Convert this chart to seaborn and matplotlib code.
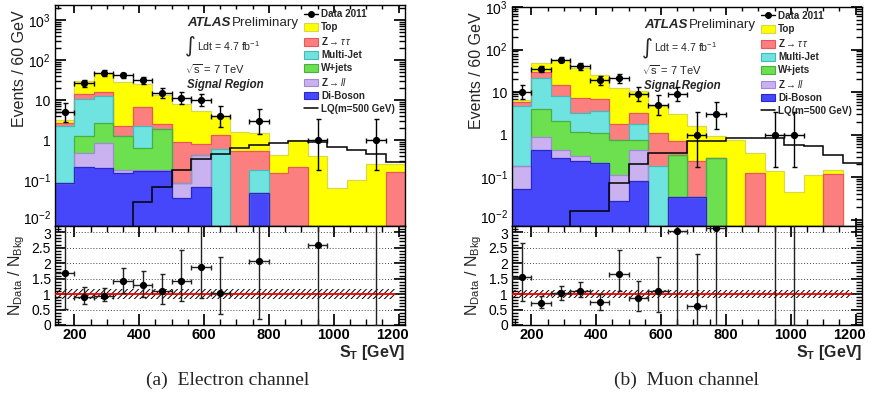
import numpy as np
import pandas as pd
import matplotlib
matplotlib.use("Agg")
import matplotlib.pyplot as plt
import matplotlib.transforms as mtransforms
from matplotlib.lines import Line2D
from matplotlib.patches import Patch
from matplotlib.ticker import FuncFormatter, LogLocator, MultipleLocator, NullFormatter
import seaborn as sns

sns.set_theme(style="ticks")
plt.rcParams['font.family'] = ['Liberation Sans', 'DejaVu Sans']
plt.rcParams['mathtext.fontset'] = 'custom'
plt.rcParams['mathtext.rm'] = 'Liberation Sans'
plt.rcParams['mathtext.it'] = 'Liberation Sans:italic'
plt.rcParams['mathtext.bf'] = 'Liberation Sans:bold'
plt.rcParams['hatch.linewidth'] = 0.7

# ---------------------------------------------------------------- binning
st_edges = np.arange(140, 1221, 60)          # S_T bins, 60 GeV wide
st_centers = 0.5 * (st_edges[:-1] + st_edges[1:])

processes = ["Top", "Z→ττ", "Multi-Jet", "W+jets", "Z→ll", "Di-Boson"]
legend_labels = ["Top", r"Z$\rightarrow\tau\,\tau$", "Multi-Jet", "W+jets",
                 r"Z$\rightarrow ll$", "Di-Boson"]
fill_colors = {"Top": "#ffff00", "Z→ττ": "#fb7f7f", "Multi-Jet": "#6fe3e0",
               "W+jets": "#6de04f", "Z→ll": "#c9b2ef", "Di-Boson": "#4646fb"}
edge_colors = {"Top": "#d8d84a", "Z→ττ": "#e85858", "Multi-Jet": "#48b8b8",
               "W+jets": "#48b040", "Z→ll": "#a488d8", "Di-Boson": "#2828c8"}

# ---------------------------------------------------------------- electron channel
el_top      = [0.50, 15.7, 32.5, 25.8, 18.0, 11.0, 6.9, 4.6, 2.6, 1.07, 0.95, 0.27, 0.785, 0.39, 0.063, 0.10, 0.25, 0.09]
el_ztautau  = [0.50, 3.30, 2.70, 0.94, 4.30, 0.65, 0.83, 0.37, 0.75, 0.53, 0.352, 0.152, 0.215, 0, 0, 0, 0, 0.16]
el_multijet = [2.12, 9.34, 10.2, 0, 1.68, 0, 0, 0, 0.58, 0, 0.13, 0, 0, 0, 0, 0, 0, 0]
el_wjets    = [0, 0.78, 1.77, 1.08, 0.44, 1.67, 0, 0, 0, 0, 0, 0, 0, 0, 0, 0, 0, 0]
el_zll      = [0, 0.265, 0.634, 0.026, 0.008, 0.008, 0.047, 0.352, 0, 0, 0, 0, 0, 0, 0, 0, 0, 0]
el_diboson  = [0.085, 0.215, 0.196, 0.152, 0.17, 0.17, 0.035, 0.068, 0, 0, 0.048, 0, 0, 0, 0, 0, 0, 0]
el_lq       = [0, 0, 0, 0, 0.029, 0.068, 0.178, 0.33, 0.45, 0.62, 0.75, 0.86, 0.96, 0.91, 0.68, 0.56, 0.45, 0.28]

el_data_x   = [170, 230, 290, 350, 410, 470, 530, 590, 650, 770, 950, 1130]
el_data_n   = [5, 26, 47, 41, 31, 15, 11, 10, 4, 3, 1, 1]
el_ratio    = [1.69, 0.89, 0.94, 1.42, 1.29, 1.11, 1.42, 1.86, 1.04, 2.07, 2.58, 4.0]
el_ratio_lo = [0.52, 0.68, 0.77, 1.04, 0.90, 0.68, 0.76, 0.87, 0.34, 0.20, 0.0, 0.0]
el_ratio_hi = [3.80, 1.24, 1.18, 1.85, 1.74, 1.66, 2.42, 3.50, 2.20, 6.0, 8.0, 12.0]
el_syst     = (0.84, 1.17)

# ---------------------------------------------------------------- muon channel
mu_top      = [0.6, 19.6, 41.3, 28.7, 18.4, 10.9, 7.3, 3.5, 2.3, 1.40, 0.67, 0.75, 0.235, 0.137, 0.045, 0.115, 0.025, 0]
mu_ztautau  = [1.1, 8.0, 6.5, 4.1, 3.4, 1.02, 1.42, 0.914, 0.36, 0.202, 0, 0, 0.125, 0, 0, 0, 0.12, 0]
mu_multijet = [4.62, 17.1, 5.95, 2.07, 2.4, 0, 1.02, 0.186, 0, 0, 0, 0, 0, 0, 0, 0, 0, 0]
mu_wjets    = [0, 3.02, 1.62, 0.81, 0.885, 0.645, 0.32, 0, 0.306, 0, 0.28, 0, 0, 0, 0, 0, 0, 0]
mu_zll      = [0.127, 0.45, 0.15, 0.085, 0, 0.088, 0.36, 0, 0, 0, 0, 0, 0, 0, 0, 0, 0, 0]
mu_diboson  = [0.053, 0.43, 0.28, 0.235, 0.215, 0.027, 0.08, 0, 0.034, 0.034, 0, 0, 0, 0, 0, 0, 0, 0]
mu_lq       = [0, 0, 0, 0.0157, 0.016, 0.073, 0.2, 0.36, 0.36, 0.70, 0.70, 0.84, 0.84, 0.81, 0.58, 0.54, 0.34, 0.22]

mu_data_x   = [170, 230, 290, 350, 410, 470, 530, 590, 650, 710, 770, 950, 1010]
mu_data_n   = [10, 35, 58, 40, 19, 21, 9, 5, 9, 1, 3, 1, 1]
mu_ratio    = [1.54, 0.72, 1.04, 1.11, 0.75, 1.65, 0.86, 1.11, 3.03, 0.61, 3.15, 4.0, 4.0]
mu_ratio_lo = [0.78, 0.55, 0.82, 0.90, 0.50, 1.10, 0.45, 0.43, 0.0, 0.0, 0.0, 0.0, 0.0]
mu_ratio_hi = [2.64, 0.93, 1.25, 1.40, 1.00, 2.42, 1.41, 2.20, 9.0, 2.28, 9.0, 12.0, 12.0]
mu_syst     = (0.88, 1.13)

W_PX, H_PX = 869, 401
fig = plt.figure(figsize=(W_PX / 100, H_PX / 100), dpi=100)


def rect(x0, y0, x1, y1):
    return [x0 / W_PX, 1 - y1 / H_PX, (x1 - x0) / W_PX, (y1 - y0) / H_PX]


def shift_px(artist, dx, dy):
    artist.set_transform(artist.get_transform() +
                         mtransforms.ScaledTranslation(dx / 100, dy / 100, fig.dpi_scale_trans))


def poisson_interval(n):
    n = np.asarray(n, dtype=float)
    lo = np.where(n > 0, n - np.sqrt(np.maximum(n - 0.25, 0)) + 0.04, 0)
    hi = n + 1 + np.sqrt(n + 0.75)
    return n - lo, hi - n


def log_label(v, pos):
    e = int(round(np.log10(v)))
    if e == 0:
        return "1"
    if e == 1:
        return "10"
    return r"$10^{%d}$" % e


def style_axis(ax):
    ax.tick_params(which="both", direction="in", top=True, right=True,
                   colors="black", labelsize=10)
    for s in ax.spines.values():
        s.set_linewidth(1.0)
        s.set_color("black")


def draw_channel(x_left, y_top, comps, lq, data_x, data_n, ratio, r_lo, r_hi,
                 syst, ymax, caption, caption_x):
    x_right = x_left + 350
    ax = fig.add_axes(rect(x_left, y_top, x_right, 226))
    axr = fig.add_axes(rect(x_left, 226, x_right, 325))

    # stacked backgrounds
    rows = []
    for proc, vals in zip(processes, comps):
        for c, v in zip(st_centers, vals):
            rows.append({"st": c, "events": v, "process": proc})
    df = pd.DataFrame(rows)
    sns.histplot(data=df, x="st", weights="events", hue="process",
                 hue_order=processes, palette=fill_colors, multiple="stack",
                 element="step", fill=True, alpha=1, linewidth=0,
                 bins=st_edges.tolist(), legend=False, ax=ax)
    ax.set_yscale("log")
    # outline of each cumulative histogram, largest first
    cum = np.cumsum(np.array(comps[::-1]), axis=0)[::-1]
    for proc, c in zip(processes, cum):
        ax.stairs(c, st_edges, color=edge_colors[proc], lw=0.9, baseline=None)

    ax.stairs(lq, st_edges, color="black", lw=1.1, baseline=None)

    elo, ehi = poisson_interval(data_n)
    ax.errorbar(data_x, data_n, yerr=[elo, ehi], xerr=30, fmt="o", color="black",
                ms=4.2, elinewidth=1.0, capsize=1.8, capthick=1.0, zorder=5)

    ax.set_xlim(st_edges[0], st_edges[-1])
    ax.set_ylim(0.0071, ymax)
    ax.set_xlabel("")
    ax.set_ylabel("Events / 60 GeV", fontsize=11.5)
    ax.yaxis.set_label_coords(-0.08, 0.71)
    ax.yaxis.set_major_locator(LogLocator(base=10, numticks=10))
    ax.yaxis.set_minor_locator(LogLocator(base=10, subs=np.arange(2, 10), numticks=20))
    ax.yaxis.set_major_formatter(FuncFormatter(log_label))
    ax.yaxis.set_minor_formatter(NullFormatter())
    ax.xaxis.set_major_locator(MultipleLocator(200))
    ax.xaxis.set_minor_locator(MultipleLocator(50))
    ax.set_xticklabels([])
    style_axis(ax)
    ax.tick_params(axis="y", which="major", length=8, pad=3)
    ax.tick_params(axis="y", which="minor", length=4)
    ax.tick_params(axis="x", which="major", length=6)
    ax.tick_params(axis="x", which="minor", length=3)

    # labels and legend
    ax.text(0.378, 0.92, "ATLAS", transform=ax.transAxes, fontsize=9.6,
            fontweight="bold", style="italic", va="center")
    ax.text(0.505, 0.92, "Preliminary", transform=ax.transAxes, fontsize=9.6, va="center")
    ax.text(0.372, 0.815, "∫", transform=ax.transAxes, fontsize=15,
            family="DejaVu Sans", va="center")
    ax.text(0.407, 0.815, r"Ldt = 4.7 fb$^{\mathregular{-1}}$", transform=ax.transAxes,
            fontsize=7.6, va="center")
    ax.text(0.372, 0.712, r"$\sqrt{\mathregular{s}}$ = 7 TeV", transform=ax.transAxes,
            fontsize=8, va="center")
    ax.text(0.378, 0.64, "Signal Region", transform=ax.transAxes, fontsize=8.3,
            fontweight="bold", style="italic", va="center")

    handles = [Line2D([], [], marker="o", color="black", ls="-", ms=4, lw=1.0)]
    for proc in processes:
        handles.append(Patch(facecolor=fill_colors[proc], edgecolor=edge_colors[proc], lw=0.8))
    handles.append(Line2D([], [], color="black", lw=1.1))
    labels = ["Data 2011"] + legend_labels + ["LQ(m=500 GeV)"]
    ax.legend(handles, labels, loc="upper left", bbox_to_anchor=(0.705, 0.99),
              frameon=False, prop={"size": 7.1, "weight": "bold"},
              handlelength=1.45, handleheight=0.85, handletextpad=0.3,
              labelspacing=0.3, borderaxespad=0, borderpad=0.2)

    # ratio panel
    for g in np.arange(0.5, 3.01, 0.5):
        axr.axhline(g, color="#444444", lw=0.7, ls=(0, (1, 2)), zorder=1)
    axr.fill_between([st_edges[0], st_centers[-1]], syst[0], syst[1],
                     facecolor="none", edgecolor="black", hatch="//////", lw=0, zorder=2)
    axr.plot([st_edges[0], st_centers[-1]], [1, 1], color="red", lw=1.3, zorder=3)
    ratio = np.asarray(ratio)
    axr.errorbar(data_x, ratio, yerr=[ratio - np.asarray(r_lo), np.asarray(r_hi) - ratio],
                 xerr=30, fmt="o", color="black", ecolor="#222222", ms=4.2,
                 elinewidth=1.0, capsize=1.8, capthick=1.0, zorder=5)
    axr.set_xlim(st_edges[0], st_edges[-1])
    axr.set_ylim(0, 3.2)
    axr.yaxis.set_major_locator(MultipleLocator(0.5))
    axr.yaxis.set_minor_locator(MultipleLocator(0.1))
    axr.yaxis.set_major_formatter(FuncFormatter(lambda v, p: "%g" % v))
    axr.xaxis.set_major_locator(MultipleLocator(200))
    axr.xaxis.set_minor_locator(MultipleLocator(50))
    style_axis(axr)
    axr.tick_params(axis="y", which="major", length=8, pad=3)
    axr.tick_params(axis="y", which="minor", length=4)
    axr.tick_params(axis="x", which="major", length=8, pad=2, labelsize=10.5)
    axr.tick_params(axis="x", which="minor", length=4)
    fig.canvas.draw()
    for lab in axr.get_xticklabels():
        lab.set_fontweight("bold")
        if lab.get_text() == "1200":
            shift_px(lab, -6, 0)
    # keep the lowest event label clear of the ratio scale
    for lab in ax.get_yticklabels():
        if lab.get_text() == r"$10^{-2}$":
            shift_px(lab, 0, 3)
    for lab in axr.get_yticklabels():
        if lab.get_text() == "3":
            shift_px(lab, 0, -1)
    axr.set_ylabel(r"N$_{\mathregular{Data}}$ / N$_{\mathregular{Bkg}}$", fontsize=11.5)
    axr.yaxis.set_label_coords(-0.08, 0.5)
    axr.set_xlabel(r"S$_{\mathbf{T}}$ [GeV]", fontsize=11.5, fontweight="bold",
                   loc="right", labelpad=1)

    fig.text(caption_x / W_PX, 1 - 380 / H_PX, caption, ha="center", va="center",
             fontsize=14, family="Liberation Serif")


el_comps = [el_top, el_ztautau, el_multijet, el_wjets, el_zll, el_diboson]
mu_comps = [mu_top, mu_ztautau, mu_multijet, mu_wjets, mu_zll, mu_diboson]

draw_channel(55, 5, el_comps, el_lq, el_data_x, el_data_n, el_ratio, el_ratio_lo,
             el_ratio_hi, el_syst, 2370, "(a)  Electron channel", 228)
draw_channel(512, 7, mu_comps, mu_lq, mu_data_x, mu_data_n, mu_ratio, mu_ratio_lo,
             mu_ratio_hi, mu_syst, 1000, "(b)  Muon channel", 686)

fig.savefig("out.png", dpi=100)
